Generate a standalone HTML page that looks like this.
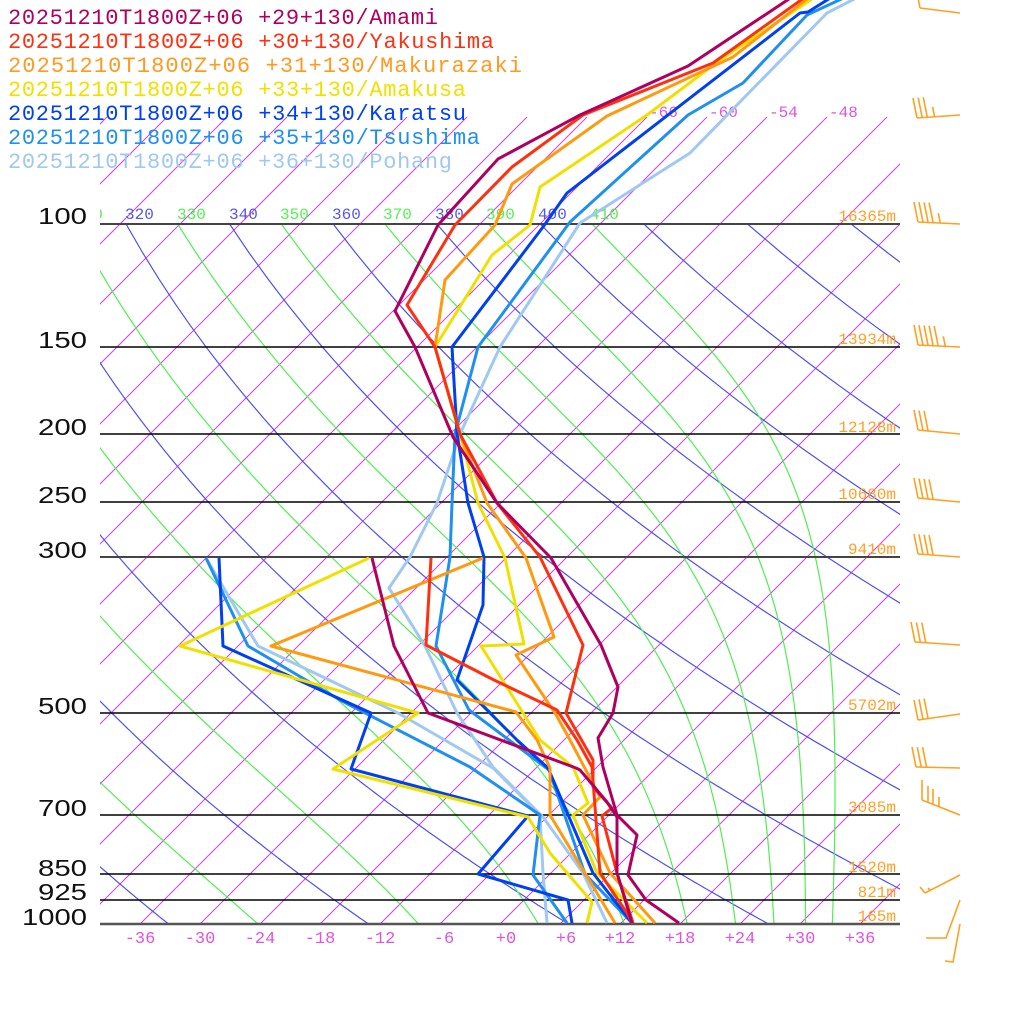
<!DOCTYPE html>
<html><head><meta charset="utf-8"><style>
html,body{margin:0;padding:0;background:#fff;}
svg{display:block;}
.lg{font-family:"Liberation Mono",monospace;font-size:22px;}
.th{font-family:"Liberation Mono",monospace;font-size:16px;}
.hm{font-family:"Liberation Mono",monospace;font-size:16px;fill:#FFA028;}
.pl{font-family:"Liberation Sans",sans-serif;font-size:23px;fill:#111;}
.tl{font-family:"Liberation Mono",monospace;font-size:17px;fill:#DD55DD;text-anchor:middle;}
</style></head><body>
<svg id="s" width="1024" height="1024" viewBox="0 0 1024 1024" xmlns="http://www.w3.org/2000/svg">
<defs>
<clipPath id="c1"><rect x="100" y="110" width="800" height="814"/></clipPath>
<clipPath id="c2"><rect x="100" y="224" width="800" height="700"/></clipPath>
<clipPath id="c3"><rect x="100" y="190" width="520" height="40"/></clipPath>
</defs>
<g id="iso" clip-path="url(#c1)" stroke="#CC44DD" stroke-width="1" fill="none"></g>
<g id="adi" clip-path="url(#c2)" fill="none" stroke-width="1.2"></g>
<g stroke="#000" stroke-width="1.5">
<line x1="100" y1="224" x2="900" y2="224" stroke="#444" stroke-width="2"/>
<line x1="100" y1="347" x2="900" y2="347"/>
<line x1="100" y1="434" x2="900" y2="434"/>
<line x1="100" y1="502" x2="900" y2="502"/>
<line x1="100" y1="557" x2="900" y2="557" stroke="#444" stroke-width="2"/>
<line x1="100" y1="713" x2="900" y2="713"/>
<line x1="100" y1="815" x2="900" y2="815"/>
<line x1="100" y1="874" x2="900" y2="874"/>
<line x1="100" y1="900" x2="900" y2="900"/>
<line x1="100" y1="924" x2="900" y2="924" stroke="#555" stroke-width="2.5"/>
</g>
<g class="th" clip-path="url(#c3)">
<text x="74" y="219" fill="#55EE55">310</text>
<text x="125" y="219" fill="#5555EE">320</text>
<text x="177" y="219" fill="#55EE55">330</text>
<text x="229" y="219" fill="#5555EE">340</text>
<text x="280" y="219" fill="#55EE55">350</text>
<text x="332" y="219" fill="#5555EE">360</text>
<text x="383" y="219" fill="#55EE55">370</text>
<text x="435" y="219" fill="#5555EE">380</text>
<text x="486" y="219" fill="#55EE55">390</text>
<text x="538" y="219" fill="#5555EE">400</text>
<text x="590" y="219" fill="#55EE55">410</text>
</g>
<g class="th" fill="#DD55DD" font-size="18">
<text x="649" y="117">-66</text><text x="709" y="117">-60</text><text x="769" y="117">-54</text><text x="829" y="117">-48</text>
</g>
<g class="hm" text-anchor="end">
<text x="896" y="221">16365m</text><text x="896" y="344">13934m</text><text x="896" y="432">12128m</text>
<text x="896" y="499">10680m</text><text x="896" y="554">9410m</text><text x="896" y="710">5702m</text>
<text x="896" y="812">3085m</text><text x="896" y="872">1520m</text><text x="896" y="897">821m</text><text x="896" y="921">165m</text>
</g>
<g class="pl" text-anchor="end">
<text x="87" y="224" textLength="49" lengthAdjust="spacingAndGlyphs">100</text>
<text x="87" y="348" textLength="49" lengthAdjust="spacingAndGlyphs">150</text>
<text x="87" y="435" textLength="49" lengthAdjust="spacingAndGlyphs">200</text>
<text x="87" y="503" textLength="49" lengthAdjust="spacingAndGlyphs">250</text>
<text x="87" y="558" textLength="49" lengthAdjust="spacingAndGlyphs">300</text>
<text x="87" y="714" textLength="49" lengthAdjust="spacingAndGlyphs">500</text>
<text x="87" y="816" textLength="49" lengthAdjust="spacingAndGlyphs">700</text>
<text x="87" y="876" textLength="49" lengthAdjust="spacingAndGlyphs">850</text>
<text x="87" y="900" textLength="49" lengthAdjust="spacingAndGlyphs">925</text>
<text x="87" y="925" textLength="65" lengthAdjust="spacingAndGlyphs">1000</text>
</g>
<g class="tl">
<text x="140" y="943">-36</text><text x="200" y="943">-30</text><text x="260" y="943">-24</text><text x="320" y="943">-18</text>
<text x="380" y="943">-12</text><text x="444" y="943">-6</text><text x="506" y="943">+0</text><text x="566" y="943">+6</text>
<text x="620" y="943">+12</text><text x="680" y="943">+18</text><text x="740" y="943">+24</text><text x="800" y="943">+30</text><text x="860" y="943">+36</text>
</g>
<g fill="none" stroke-width="3" stroke-linejoin="round">
<polyline stroke="#A0C8F0" points="862,-5 827,13 690,153 580,223 500,347 460,434 437,503 410,557 389,588 425,646 457,713 493,767 543,817 583,873 607,923"/>
<polyline stroke="#A0C8F0" points="206,558 258,646 398,713 493,768 540,815 543,873 547,923"/>
<polyline stroke="#2090F0" points="850,-5 807,15 743,83 688,115 570,222 478,347 455,434 452,503 450,557 436,646 469,710 549,770 585,874 632,923"/>
<polyline stroke="#2090F0" points="206,558 248,646 340,700 470,767 540,815 533,875 567,923"/>
<polyline stroke="#0040F0" points="835,-5 808,12 800,13 567,193 543,227 452,347 457,433 468,503 484,557 483,605 457,680 517,740 548,768 593,873 632,923"/>
<polyline stroke="#0040F0" points="219,558 223,646 371,713 351,769 528,816 478,874 568,900 572,923"/>
<polyline stroke="#F0E000" points="818,-5 720,60 647,115 540,187 530,225 492,255 435,347 460,434 478,503 505,558 524,644 481,646 540,740 573,767 588,803 573,815 597,873 647,923"/>
<polyline stroke="#F0E000" points="369,558 180,646 418,713 333,769 528,817 550,853 592,902 587,923"/>
<polyline stroke="#FF9A10" points="812,-5 733,57 607,116 512,184 495,225 445,280 435,347 460,434 487,503 526,558 554,637 516,655 555,713 570,740 600,797 583,815 610,873 655,923"/>
<polyline stroke="#FF9A10" points="483,558 271,646 516,712 537,740 550,768 550,815 615,923"/>
<polyline stroke="#FF3010" points="808,-5 713,63 583,115 512,167 455,225 407,305 435,347 460,434 497,503 540,557 583,645 566,713 593,760 593,787 612,808 602,816 617,873 633,923"/>
<polyline stroke="#FF3010" points="431,558 426,645 494,680 557,710 577,740 592,767 600,873 627,913 632,923"/>
<polyline stroke="#B0005F" points="795,-5 688,66 580,115 498,159 438,225 395,311 415,347 453,437 497,503 551,558 601,645 618,687 613,713 598,738 603,767 617,815 637,835 628,875 646,900 679,923"/>
<polyline stroke="#B0005F" points="372,558 394,646 428,713 576,768 580,770 607,802 617,817 617,873 632,923"/>
</g>
<g id="barbs" stroke="#FFA020" stroke-width="1.6" fill="none"></g>
<g class="lg">
<text x="8" y="24" fill="#B0005F" textLength="430">20251210T1800Z+06 +29+130/Amami</text>
<text x="8" y="48" fill="#FF3010" textLength="486">20251210T1800Z+06 +30+130/Yakushima</text>
<text x="8" y="72" fill="#FF9A20" textLength="514">20251210T1800Z+06 +31+130/Makurazaki</text>
<text x="8" y="96" fill="#F0E000" textLength="458">20251210T1800Z+06 +33+130/Amakusa</text>
<text x="8" y="120" fill="#0040F0" textLength="458">20251210T1800Z+06 +34+130/Karatsu</text>
<text x="8" y="144" fill="#2090F0" textLength="472">20251210T1800Z+06 +35+130/Tsushima</text>
<text x="8" y="168" fill="#A0C8F0" textLength="444">20251210T1800Z+06 +36+130/Pohang</text>
</g>
</svg>
<script>
(function(){
var NS="http://www.w3.org/2000/svg";
function Y(p){return 924-304*Math.log(1000/p);}
function X(T,p){return 500+10*T+(924-Y(p));}
function path(g,d,col,w){var e=document.createElementNS(NS,"path");e.setAttribute("d",d);if(col)e.setAttribute("stroke",col);if(w)e.setAttribute("stroke-width",w);g.appendChild(e);}
var iso=document.getElementById("iso");
for(var T=-150;T<=42;T+=6){var x1=X(T,1000),y1=924,y2=117,x2=x1+(y1-y2);path(iso,"M"+x1+","+y1+"L"+x2+","+y2);}
var adi=document.getElementById("adi");
for(var th=200;th<=480;th+=20){var d="";for(var p=100;p<=1000;p+=10){var T=th*Math.pow(p/1000,0.2857)-273.15;d+=(p==100?"M":"L")+X(T,p).toFixed(1)+","+Y(p).toFixed(1);}path(adi,d,"#5050EE");}
var Rd=287.04,cp=1005.7,L=2.501e6,eps=0.622;
function es(T){var t=T-273.15;return 6.112*Math.exp(17.67*t/(t+243.5));}
for(var th=190;th<=410;th+=20){var T=th*Math.pow(0.1,0.2857);var d="M"+X(T-273.15,100).toFixed(1)+","+Y(100).toFixed(1);
for(var p=100;p<1000;p+=2){var e=es(T),rs=eps*e/(p-e);var dTdp=(Rd*T+L*rs)/(p*(cp+L*L*rs*eps/(Rd*T*T)));T+=dTdp*2;var pp=p+2;d+="L"+X(T-273.15,pp).toFixed(1)+","+Y(pp).toFixed(1);}
path(adi,d,"#50EE50");}
var bg=document.getElementById("barbs");
function barb(y,tx,ty,n,half){var x0=960;path(bg,"M"+x0+","+y+"L"+tx+","+ty);
for(var i=0;i<n;i++){var f=i*0.12;var bx=tx+(x0-tx)*f,by=ty+(y-ty)*f;path(bg,"M"+bx.toFixed(1)+","+by.toFixed(1)+"l-4,-20");}
if(half){var f=n*0.12+0.05;var bx=tx+(x0-tx)*f,by=ty+(y-ty)*f;path(bg,"M"+bx.toFixed(1)+","+by.toFixed(1)+"l-2,-10");}}
barb(13,920,8,1,0);
barb(115,917,118,3,1);
barb(224,918,222,4,1);
barb(347,918,345,5,1);
barb(434,918,430,3,0);
barb(502,918,498,4,0);
barb(557,918,554,4,0);
barb(645,915,642,3,0);
barb(714,918,720,3,0);
barb(768,916,767,3,0);
path(bg,"M960,815L922,800M922,800l0,-20M928,803l0,-17M933,805l0,-16M939,807l0,-10");
path(bg,"M960,875L925,893M925,893l-5,-6M930,890l-2,-2");
path(bg,"M960,900L946,938L926,938");
path(bg,"M960,924L953,962L945,961");
})();
</script>
</body></html>
